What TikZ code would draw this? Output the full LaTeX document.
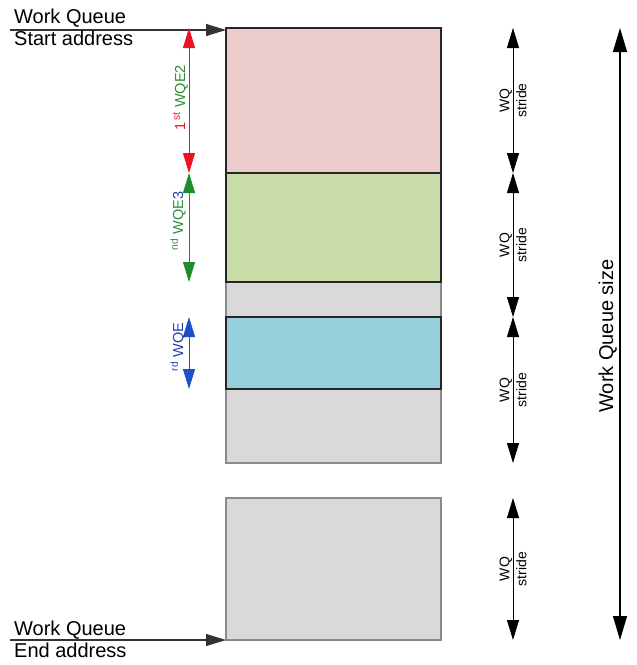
\documentclass[tikz,border=0pt]{standalone}
\usepackage{fontspec}
\setmainfont{Liberation Sans}
\usepackage{xcolor}
\usetikzlibrary{arrows.meta, positioning}

\definecolor{wqred}{HTML}{EBCBCB}
\definecolor{wqgreen}{HTML}{C9DBA9}
\definecolor{wqblue}{HTML}{98CFDD}
\definecolor{wqgray}{HTML}{D9D9D9}
\definecolor{wqedge}{HTML}{8A8A8A}
\definecolor{arrred}{HTML}{EE1122}
\definecolor{arrgreen}{HTML}{1E8C2A}
\definecolor{arrblue}{HTML}{1F4FC8}
\definecolor{txtgreen}{HTML}{2E8B3A}
\definecolor{txtblue}{HTML}{2440B0}

\tikzset{
    slot/.style={draw=wqedge, line width=1.2pt, fill=wqgray, anchor=north west,
        minimum width=215pt, inner sep=0pt, outer sep=0pt},
    wqebox/.style={slot, draw=black!85, line width=2pt},
    feed/.style={-{Triangle[width=12pt, length=20pt]}, line width=1.2pt, black!80},
    span/.style={{Triangle[width=12pt, length=20pt]}-{Triangle[width=12pt, length=20pt]}, line width=0.9pt},
    bigspan/.style={{Triangle[width=14pt, length=24pt]}-{Triangle[width=14pt, length=24pt]}, line width=1.2pt},
    lbl/.style={font=\fontsize{20}{22}\selectfont, anchor=base west, inner sep=0pt},
    stridelbl/.style={rotate=90, align=center, font=\fontsize{14}{17}\selectfont, inner sep=0pt},
    wqelbl/.style={rotate=90, anchor=base, font=\fontsize{14.5}{16}\selectfont, inner sep=0pt}
}

\begin{document}
\begin{tikzpicture}[x=1pt, y=-1pt]
    \useasboundingbox (0,0) rectangle (637,665);

    % Work queue slots
    \node[slot, minimum height=435pt] (pool) at (226,28) {};
    \node[wqebox, fill=wqred, minimum height=145pt] (wqe1) at (226,28) {};
    \node[wqebox, fill=wqgreen, minimum height=109pt] (wqe2) at (226,173) {};
    \node[wqebox, fill=wqblue, minimum height=72pt] (wqe3) at (226,317) {};
    \node[slot, minimum height=142pt] (last) at (226,498) {};

    % Start / end address
    \coordinate (sa) at (10,30);
    \coordinate (ea) at (10,640);
    \draw[feed] (sa) -- (sa -| wqe1.west);
    \draw[feed] (ea) -- (ea -| last.west);
    \node[lbl] (sq) at (14,23) {Work Queue};
    \node[lbl] (sadr) at (14,45) {Start address};
    \node[lbl] (eq) at (14,635) {Work Queue};
    \node[lbl] (eadr) at (14,657) {End address};

    % WQE sizes
    \coordinate (e1a) at (189,28);
    \coordinate (e1b) at (189,173);
    \coordinate (e2a) at (189,173);
    \coordinate (e2b) at (189,282);
    \coordinate (e3a) at (189,317);
    \coordinate (e3b) at (189,389);
    \draw[span, arrred] (e1a) -- (e1b);
    \draw[span, arrgreen] (e2a) -- (e2b);
    \draw[span, arrblue] (e3a) -- (e3b);
    \node[wqelbl, arrred] (l1) at (185,98) {1\,\textsuperscript{st} \textcolor{txtgreen}{WQE2}};
    \node[wqelbl, txtgreen] (l2) at (183,221) {\textsuperscript{nd} WQE\textcolor{txtblue}{3}};
    \node[wqelbl, txtblue] (l3) at (183,347) {\textsuperscript{rd} WQE};

    % WQ stride
    \foreach \n/\a/\b in {1/28/173, 2/173/317, 3/317/463, 4/498/640} {
        \coordinate (st\n a) at (513,\a);
        \coordinate (st\n b) at (513,\b);
        \draw[span] (st\n a) -- node[stridelbl] {WQ\\stride} (st\n b);
    }

    % Work queue size
    \coordinate (qa) at (620,28);
    \coordinate (qb) at (620,640);
    \draw[bigspan] (qa) -- (qb);
    \node[wqelbl, font=\fontsize{20}{22}\selectfont] (qsize) at (613,336) {Work Queue size};
\end{tikzpicture}
\end{document}
